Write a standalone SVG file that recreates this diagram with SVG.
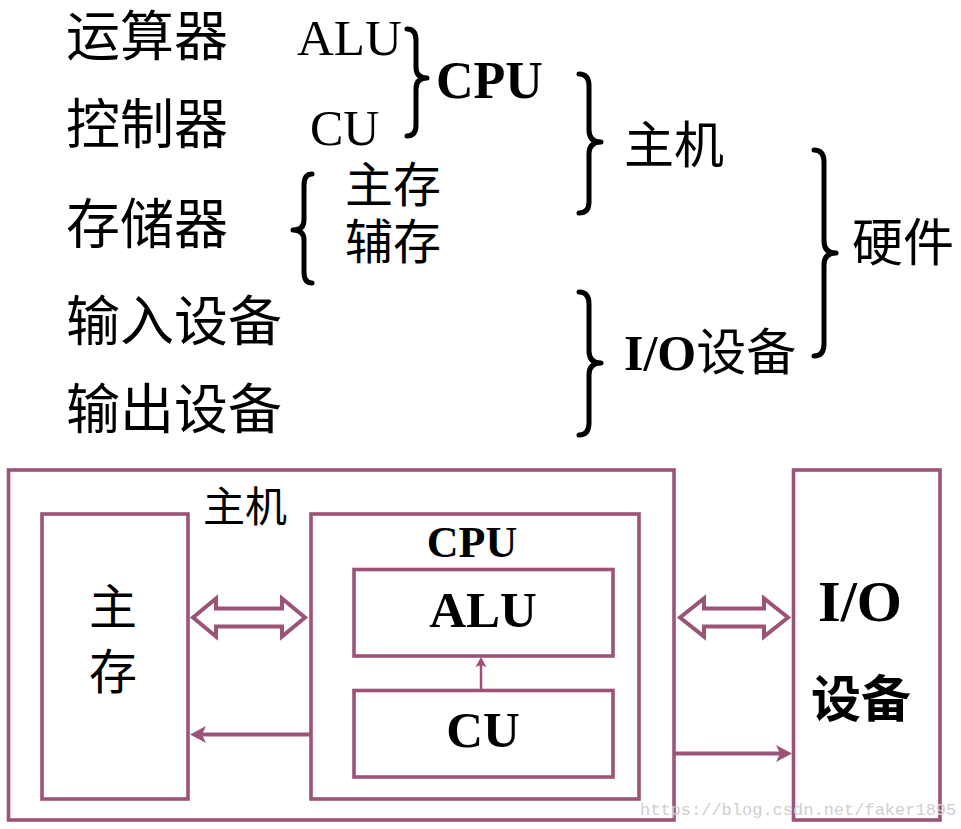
<svg xmlns="http://www.w3.org/2000/svg" width="961" height="829" viewBox="0 0 961 829">
<style>
.cjk{font-family:"Noto Sans CJK SC","Noto Sans CJK JP",sans-serif;fill:#000}
.lat{font-family:"Liberation Serif","Times New Roman",serif;fill:#000}
.b{font-weight:bold}
.brace{fill:none;stroke:#000;stroke-width:5;stroke-linecap:round;stroke-linejoin:round}
.box{fill:none;stroke:#9b5478;stroke-width:3.6}
.dbl{fill:none;stroke:#9b5478;stroke-width:4;stroke-linejoin:miter}
.ln{fill:none;stroke:#9b5478;stroke-width:4}
.head{fill:#9b5478}
.wm{font-family:"Liberation Mono","Courier New",monospace;font-size:17px;fill:#cfcfcf}
</style>
<rect width="961" height="829" fill="#fff"/>

<!-- top classification -->
<g id="top-left-list">
<text class="cjk" x="66" y="56" font-size="54">运算器</text>
<text class="cjk" x="66" y="144" font-size="54">控制器</text>
<text class="cjk" x="66" y="244" font-size="54">存储器</text>
<text class="cjk" x="66" y="341" font-size="54">输入设备</text>
<text class="cjk" x="66" y="429" font-size="54">输出设备</text>
</g>
<g id="alu-cu">
<text class="lat" x="297" y="55" font-size="51">ALU</text>
<text class="lat" x="310" y="145" font-size="50">CU</text>
</g>
<g id="cpu-label">
<text class="lat b" x="436" y="98" font-size="52">CPU</text>
</g>
<g id="storage">
<text class="cjk" x="345" y="202" font-size="48">主存</text>
<text class="cjk" x="345" y="259" font-size="48">辅存</text>
</g>
<g id="host-label"><text class="cjk" x="624" y="163" font-size="50">主机</text></g>
<g id="io-label"><text x="624" y="370" font-size="50"><tspan class="lat b">I/O</tspan><tspan class="cjk">设备</tspan></text></g>
<g id="hw-label"><text class="cjk" x="852" y="261" font-size="51">硬件</text></g>

<g id="braces">
<!-- CPU brace -->
<path class="brace" d="M407,29 Q416,29 416,40 L416,67 Q416,78 427,78 Q416,78 416,89 L416,125 Q416,136 407,136"/>
<!-- storage brace -->
<path class="brace" d="M312,174 Q304,174 304,185 L304,220 Q304,230 293,230 Q304,230 304,240 L304,272 Q304,283 312,283"/>
<!-- host brace -->
<path class="brace" d="M579,74 Q589,74 589,86 L589,130 Q589,142 601,142 Q589,142 589,154 L589,202 Q589,213 579,213"/>
<!-- io brace -->
<path class="brace" d="M579,292 Q589,292 589,304 L589,351 Q589,363 601,363 Q589,363 589,375 L589,423 Q589,435 579,435"/>
<!-- hardware brace -->
<path class="brace" d="M814,150 Q824,150 824,162 L824,241 Q824,253 836,253 Q824,253 824,265 L824,344 Q824,356 814,356"/>
</g>

<!-- bottom block diagram -->
<g id="host-box">
<rect class="box" x="8.5" y="470" width="665.5" height="350"/>
<text class="cjk" x="203" y="522" font-size="42">主机</text>
</g>
<g id="main-memory">
<rect class="box" x="42" y="514" width="146" height="285"/>
<text class="cjk" x="113" y="624" font-size="48" text-anchor="middle">主</text>
<text class="cjk" x="113" y="689" font-size="48" text-anchor="middle">存</text>
</g>
<g id="cpu-box">
<rect class="box" x="311" y="514" width="328" height="285"/>
<text class="lat b" x="472" y="557" font-size="44" text-anchor="middle">CPU</text>
</g>
<g id="alu-box">
<rect class="box" x="354" y="569.5" width="259" height="86.5"/>
<text class="lat b" x="483" y="627" font-size="51" text-anchor="middle">ALU</text>
</g>
<g id="cu-box">
<rect class="box" x="354" y="690.5" width="259" height="86.5"/>
<text class="lat b" x="483" y="747" font-size="51" text-anchor="middle">CU</text>
</g>
<g id="io-box">
<rect class="box" x="793.5" y="470" width="146.5" height="350"/>
<text class="lat b" x="860" y="621" font-size="58" text-anchor="middle">I/O</text>
<text class="cjk b" x="861" y="717" font-size="50" text-anchor="middle">设备</text>
</g>

<g id="connectors">
<polygon class="dbl" points="193,617.5 216,598.5 216,608.5 282,608.5 282,598.5 305,617.5 282,636.5 282,626.5 216,626.5 216,636.5"/>
<polygon class="dbl" points="680,617.5 704,598.5 704,608.5 764,608.5 764,598.5 788,617.5 764,636.5 764,626.5 704,626.5 704,636.5"/>
<line class="ln" x1="311" y1="734.5" x2="198" y2="734.5"/>
<path class="head" d="M190,734.5 L206,726 L202,734.5 L206,743 Z"/>
<line class="ln" x1="674" y1="753.5" x2="784" y2="753.5"/>
<path class="head" d="M792,753.5 L776,745 L780,753.5 L776,762 Z"/>
<line class="ln" x1="481" y1="690" x2="481" y2="664" style="stroke-width:2.5"/>
<path class="head" d="M481,657 L486.5,667 L481,665 L475.5,667 Z"/>
</g>

<text class="wm" x="640" y="815">https://blog.csdn.net/faker1895</text>
</svg>
